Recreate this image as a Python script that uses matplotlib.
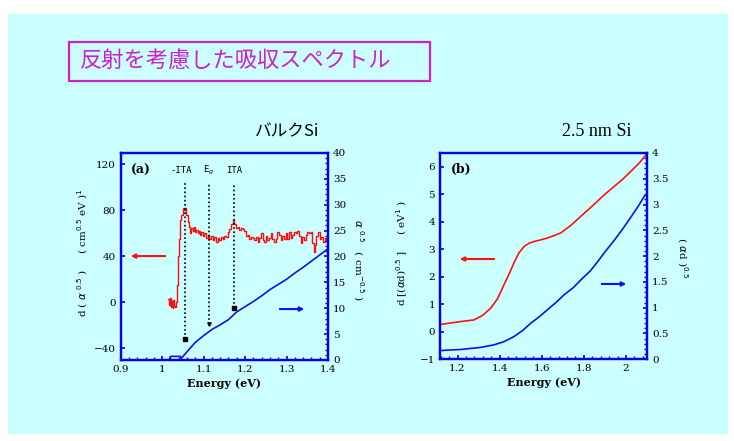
import matplotlib
matplotlib.use("Agg")
import matplotlib.pyplot as plt
from matplotlib.patches import Rectangle
from matplotlib.ticker import MultipleLocator

# (a) bulk Si: derivative spectrum (left axis) and alpha^0.5 (right axis)
e_red_a = [1.015, 1.018, 1.020, 1.022, 1.024, 1.026, 1.028, 1.030, 1.032, 1.034,
           1.036, 1.039, 1.042, 1.045, 1.048, 1.051, 1.054, 1.057, 1.060, 1.063,
           1.066, 1.069, 1.072, 1.075, 1.078, 1.081, 1.084, 1.087, 1.090, 1.093,
           1.096, 1.100, 1.104, 1.108, 1.112, 1.116, 1.120, 1.124, 1.128, 1.132,
           1.136, 1.140, 1.144, 1.148, 1.152, 1.156, 1.160, 1.164, 1.168, 1.172,
           1.176, 1.180, 1.184, 1.188, 1.192, 1.196, 1.200, 1.204, 1.208, 1.212,
           1.216, 1.220, 1.224, 1.228, 1.232, 1.236, 1.240, 1.244, 1.248, 1.252,
           1.256, 1.260, 1.264, 1.268, 1.272, 1.276, 1.280, 1.284, 1.288, 1.292,
           1.296, 1.300, 1.304, 1.308, 1.312, 1.316, 1.320, 1.324, 1.328, 1.332,
           1.336, 1.340, 1.344, 1.348, 1.352, 1.356, 1.360, 1.364, 1.367, 1.370,
           1.374, 1.378, 1.382, 1.386, 1.390, 1.394, 1.398]
d_red_a = [3, -2, 4, -4, 1, -5, 2, -3, -4, 0,
           15, 40, 55, 72, 76, 82, 80, 82, 76, 70,
           66, 60, 65, 62, 66, 61, 63, 60, 62, 59,
           61, 58, 60, 56, 59, 55, 58, 54, 57, 53,
           56, 54, 57, 55, 58, 57, 61, 64, 68, 72,
           68, 65, 66, 63, 65, 64, 62, 58, 59, 55,
           57, 56, 54, 57, 53, 56, 60, 54, 53, 58,
           54, 56, 60, 55, 53, 55, 61, 59, 54, 58,
           55, 60, 55, 61, 56, 59, 61, 60, 62, 58,
           52, 57, 54, 59, 61, 60, 61, 52, 44, 50,
           58, 61, 55, 57, 53, 56, 54]
e_blue_a = [1.018, 1.020, 1.044, 1.046, 1.06, 1.08, 1.10, 1.12, 1.14, 1.16,
            1.18, 1.20, 1.22, 1.24, 1.26, 1.28, 1.30, 1.32, 1.34, 1.36, 1.38, 1.40]
s_blue_a = [0.2, 0.7, 0.7, 0.3, 1.6, 3.4, 4.7, 5.9, 6.8, 7.8,
            9.3, 10.3, 11.3, 12.4, 13.6, 14.6, 15.6, 16.8, 17.9, 19.1, 20.3, 21.5]

# phonon-assisted edges marked in (a)
edge_names = ["-ITA", "E$_g$", "ITA"]
edge_e = [1.055, 1.1125, 1.173]
edge_low = [-32, -19, -5]
edge_marks = ["s", "v", "s"]

# (b) 2.5 nm Si
e_red_b = [1.122, 1.214, 1.278, 1.32, 1.357, 1.39, 1.42, 1.445, 1.468, 1.49,
           1.516, 1.54, 1.563, 1.6, 1.627, 1.66, 1.69, 1.74, 1.786, 1.83,
           1.865, 1.9, 1.945, 1.985, 2.024, 2.065, 2.1]
d_red_b = [0.27, 0.37, 0.43, 0.6, 0.85, 1.2, 1.7, 2.1, 2.5, 2.85,
           3.1, 3.22, 3.28, 3.35, 3.41, 3.5, 3.59, 3.88, 4.2, 4.5,
           4.75, 5.0, 5.29, 5.55, 5.84, 6.15, 6.48]
e_blue_b = [1.122, 1.214, 1.31, 1.373, 1.42, 1.468, 1.51, 1.548, 1.59, 1.627,
            1.67, 1.706, 1.75, 1.786, 1.83, 1.865, 1.9, 1.945, 1.985, 2.024,
            2.06, 2.087, 2.1]
s_blue_b = [0.17, 0.19, 0.23, 0.28, 0.34, 0.44, 0.56, 0.70, 0.83, 0.96,
            1.11, 1.25, 1.39, 1.54, 1.71, 1.89, 2.08, 2.31, 2.53, 2.76,
            2.98, 3.16, 3.2]

RED = "#ff1010"
BLUE = "#1010ee"
AXC = "#0000ee"
TICKFONT = dict(family="DejaVu Serif", size=7.5)

fig = plt.figure(figsize=(7.34, 4.41), dpi=100)
fig.patch.set_facecolor("white")
fig.add_artist(Rectangle((8 / 734, 1 - 433 / 441), 719 / 734, 419 / 441,
                         transform=fig.transFigure, color="#ccffff", zorder=0))

# title box
fig.add_artist(Rectangle((69 / 734, 1 - 81 / 441), 361 / 734, 39 / 441,
                         transform=fig.transFigure, fill=False,
                         edgecolor="#cc22cc", lw=1.6))
fig.text(0.109, 0.861, "反射を考慮した吸収スペクトル", fontsize=16,
         color="#cc22cc", va="center", family=["Noto Sans CJK JP"])


def style(ax, axr):
    for a in (ax, axr):
        a.patch.set_visible(False)
        for sp in a.spines.values():
            sp.set_color(AXC)
            sp.set_linewidth(1.6)
    ax.tick_params(axis="both", which="both", direction="in", colors=AXC,
                   labelcolor="k", top=False, right=False)
    ax.tick_params(which="major", length=3, width=1.2)
    ax.tick_params(which="minor", length=2, width=1)
    axr.tick_params(axis="y", which="both", direction="in", colors=AXC, labelcolor="k")
    axr.tick_params(which="major", length=3, width=1.2)
    axr.tick_params(which="minor", length=2, width=1)
    for lab in ax.get_xticklabels() + ax.get_yticklabels() + axr.get_yticklabels():
        lab.set_fontfamily(TICKFONT["family"])
        lab.set_fontsize(TICKFONT["size"])
    ax.set_xlabel("Energy (eV)", fontsize=8, fontweight="bold",
                  family="DejaVu Serif", labelpad=3)


# ---- panel (a)
ax1 = fig.add_axes([0.1644, 0.1837, 0.2825, 0.4694])
ax1.set_xlim(0.9, 1.4)
ax1.set_ylim(-50, 130)
ax1.set_xticks([0.9, 1.0, 1.1, 1.2, 1.3, 1.4])
ax1.set_xticklabels(["0.9", "1", "1.1", "1.2", "1.3", "1.4"])
ax1.xaxis.set_minor_locator(MultipleLocator(0.02))
ax1.set_yticks([-40, 0, 40, 80, 120])
ax1.plot(e_red_a, d_red_a, color=RED, lw=1, drawstyle="steps-mid")
ax1r = ax1.twinx()
ax1r.set_ylim(0, 40)
ax1r.set_yticks(range(0, 41, 5))
ax1r.yaxis.set_minor_locator(MultipleLocator(1))
ax1r.plot(e_blue_a, s_blue_a, color=BLUE, lw=1.2)
style(ax1, ax1r)

for name, e0, lo, mk in zip(edge_names, edge_e, edge_low, edge_marks):
    ax1.vlines(e0, lo, 104, colors="k", linestyles=(0, (1, 1.5)), lw=1.2)
    ax1.plot(e0, lo, mk, color="k", ms=2.5)
    ax1.text(e0 - (0.008 if name == "-ITA" else 0), 115, name, ha="center",
             va="center", fontsize=6.5, family="DejaVu Sans Mono")

ax1.text(0.05, 0.918, "(a)", transform=ax1.transAxes, fontsize=9,
         fontweight="bold", family="DejaVu Serif", va="center")
ax1.annotate("", xy=(0.035, 0.502), xytext=(0.228, 0.502), xycoords="axes fraction",
             arrowprops=dict(arrowstyle="-|>", color=RED, lw=1.5, mutation_scale=6))
ax1.annotate("", xy=(0.899, 0.246), xytext=(0.754, 0.246), xycoords="axes fraction",
             arrowprops=dict(arrowstyle="-|>", color=BLUE, lw=1.5, mutation_scale=6))

fig.text(287 / 734, 1 - 132 / 441, "バルクSi", ha="center", va="center",
         fontsize=12, family=["Noto Sans CJK JP"])
fig.text(0.113, 0.426, r"d ( $\alpha$ $^{0.5}$ )     ( cm$^{0.5}$ eV )$^{1}$",
         rotation=90, ha="center", va="center", fontsize=7.5, family="DejaVu Serif")
fig.text(0.4877, 0.41, r"$\alpha$ $^{0.5}$   ( cm$^{-0.5}$ )",
         rotation=270, ha="center", va="center", fontsize=7.5, family="DejaVu Serif")

# ---- panel (b)
ax2 = fig.add_axes([0.5995, 0.1853, 0.282, 0.4678])
ax2.set_xlim(1.117, 2.1)
ax2.set_ylim(-1, 6.5)
ax2.set_xticks([1.2, 1.4, 1.6, 1.8, 2.0])
ax2.set_xticklabels(["1.2", "1.4", "1.6", "1.8", "2"])
ax2.xaxis.set_minor_locator(MultipleLocator(0.04))
ax2.set_yticks(range(-1, 7))
ax2.plot(e_red_b, d_red_b, color=RED, lw=1.2)
ax2r = ax2.twinx()
ax2r.set_ylim(0, 4)
ax2r.set_yticks([0, 0.5, 1, 1.5, 2, 2.5, 3, 3.5, 4])
ax2r.set_yticklabels(["0", "0.5", "1", "1.5", "2", "2.5", "3", "3.5", "4"])
ax2r.yaxis.set_minor_locator(MultipleLocator(0.1))
ax2r.plot(e_blue_b, s_blue_b, color=BLUE, lw=1.2)
style(ax2, ax2r)

ax2.text(0.05, 0.918, "(b)", transform=ax2.transAxes, fontsize=9,
         fontweight="bold", family="DejaVu Serif", va="center")
ax2.annotate("", xy=(0.082, 0.486), xytext=(0.275, 0.486), xycoords="axes fraction",
             arrowprops=dict(arrowstyle="-|>", color=RED, lw=1.5, mutation_scale=6))
ax2.annotate("", xy=(0.913, 0.365), xytext=(0.768, 0.365), xycoords="axes fraction",
             arrowprops=dict(arrowstyle="-|>", color=BLUE, lw=1.5, mutation_scale=6))

fig.text(597 / 734, 1 - 132 / 441, "2.5 nm Si", ha="center", va="center",
         fontsize=13, family="Liberation Serif")
fig.text(0.5477, 0.426, r"d [($\alpha$d)$^{0.5}$ ]     ( eV$^{1}$ )",
         rotation=90, ha="center", va="center", fontsize=7.5, family="DejaVu Serif")
fig.text(0.929, 0.417, r"( $\alpha$d )$^{0.5}$",
         rotation=270, ha="center", va="center", fontsize=7.5, family="DejaVu Serif")

fig.savefig("out.png", dpi=100, facecolor=fig.get_facecolor())
